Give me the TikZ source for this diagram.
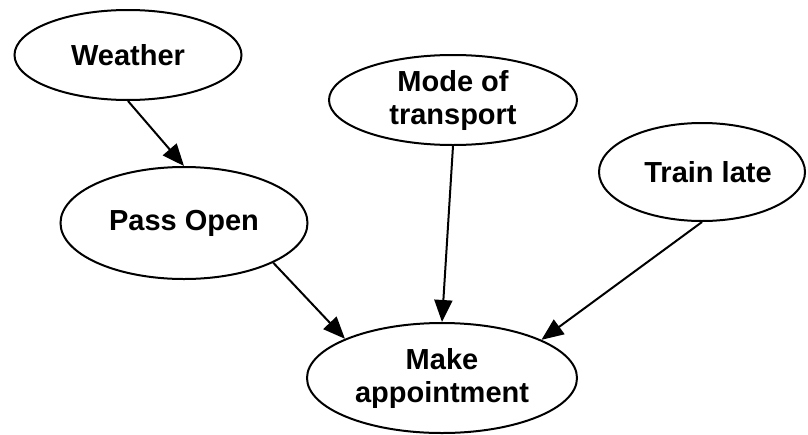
\documentclass[tikz,border=0pt]{standalone}
\usepackage{fontspec}
\setmainfont{Liberation Sans}
\usetikzlibrary{shapes.geometric,arrows.meta}
\tikzset{
  bn/.style={ellipse, draw, line width=2pt, inner sep=0pt, align=center,
    font=\fontsize{29}{33}\selectfont\bfseries},
  link/.style={line width=2pt, -{Triangle[length=22pt,width=18pt]}}
}
\begin{document}
\begin{tikzpicture}[x=1pt,y=-1pt]
\useasboundingbox (0,0) rectangle (808,434);
\node[bn, minimum width=227pt, minimum height=90pt] (W) at (128,55) {Weather};
\node[bn, minimum width=248pt, minimum height=90pt] (M) at (453,100) {Mode of\\transport};
\node[bn, minimum width=206pt, minimum height=98pt] (T) at (702,172) {\hspace*{12pt}Train late};
\node[bn, minimum width=247pt, minimum height=112pt] (P) at (184,223) {Pass Open};
\node[bn, minimum width=270pt, minimum height=110pt] (A) at (442,378) {Make\\appointment};
\draw[link] (W.south) -- (P.north);
\draw[link] (P.-24) -- (A.158);
\draw[link] (M.south) -- (A.north);
\draw[link] (T.south) -- (A.21);
\end{tikzpicture}
\end{document}
